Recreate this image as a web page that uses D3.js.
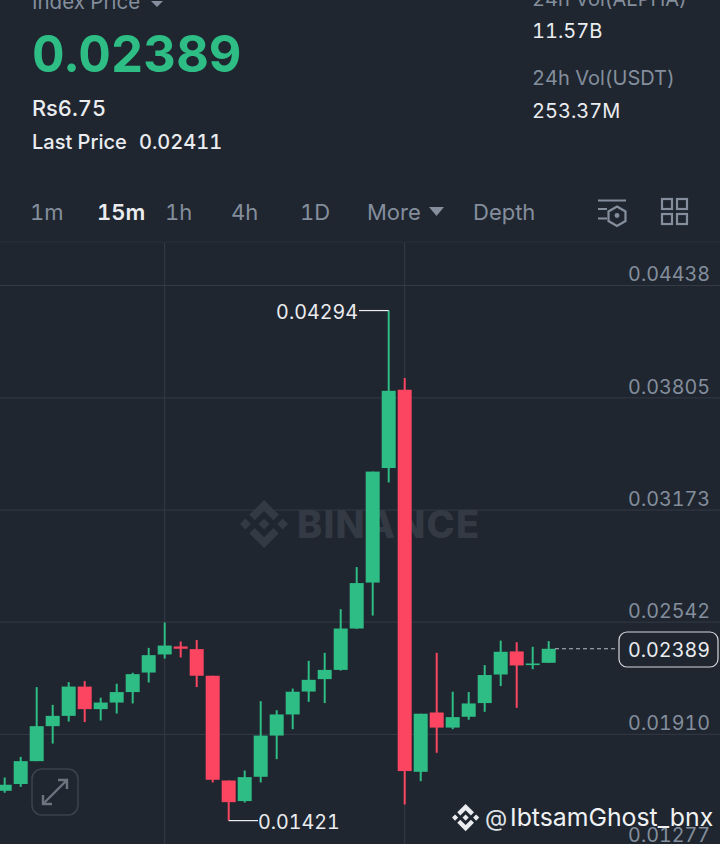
<!DOCTYPE html>
<html>
<head>
<meta charset="utf-8">
<script src="https://cdnjs.cloudflare.com/ajax/libs/d3/7.8.5/d3.min.js"></script>
<style>
  html, body { margin: 0; padding: 0; background: #1f2630; overflow: hidden; }
  svg { display: block; }
  text { font-family: Inter, "Noto Sans", sans-serif; font-variant-numeric: tabular-nums; }
</style>
</head>
<body>
<div id="chart"></div>
<script>
// candles, left to right
const opens = [0.01589, 0.01627, 0.01756, 0.01953, 0.02011, 0.02176, 0.02049, 0.02086, 0.02145, 0.02255, 0.02357, 0.02402, 0.02387, 0.02237, 0.01647, 0.01531, 0.01668, 0.01900, 0.02019, 0.02148, 0.02218, 0.02270, 0.02503, 0.02762, 0.03407, 0.03848, 0.01696, 0.02030, 0.01945, 0.02006, 0.02083, 0.02244, 0.02374, 0.02297, 0.02310];
const closes = [0.01623, 0.01756, 0.01953, 0.02011, 0.02176, 0.02049, 0.02086, 0.02145, 0.02246, 0.02353, 0.02407, 0.02389, 0.02237, 0.01651, 0.01525, 0.01666, 0.01900, 0.02019, 0.02147, 0.02214, 0.02270, 0.02503, 0.02759, 0.03387, 0.03842, 0.01700, 0.02023, 0.01945, 0.02004, 0.02081, 0.02241, 0.02372, 0.02295, 0.02306, 0.02389];
const highs = [0.01664, 0.01780, 0.02173, 0.02073, 0.02201, 0.02207, 0.02113, 0.02192, 0.02254, 0.02394, 0.02537, 0.02430, 0.02438, 0.02237, 0.01647, 0.01703, 0.02094, 0.02043, 0.02165, 0.02321, 0.02366, 0.02612, 0.02849, 0.03387, 0.04294, 0.03914, 0.02023, 0.02366, 0.02147, 0.02145, 0.02297, 0.02435, 0.02426, 0.02400, 0.02432];
const lows = [0.01578, 0.01611, 0.01756, 0.01855, 0.01979, 0.01976, 0.01985, 0.02024, 0.02081, 0.02199, 0.02334, 0.02340, 0.02173, 0.01636, 0.01421, 0.01523, 0.01636, 0.01767, 0.01936, 0.02090, 0.02083, 0.02266, 0.02501, 0.02576, 0.03326, 0.01512, 0.01643, 0.01803, 0.01936, 0.01989, 0.02034, 0.02179, 0.02056, 0.02274, 0.02310];

const priceTicks = [0.04438, 0.03805, 0.03173, 0.02542, 0.01910, 0.01277];
const timeGridIndex = [10, 25];
const maxPoint = { index: 24, value: 0.04294 };
const minPoint = { index: 14, value: 0.01421 };
const lastPrice = 0.02389;

const tabs = ['1m', '15m', '1h', '4h', '1D', 'More', 'Depth'];
const activeTab = '15m';
const statBlocks = [
  { label: '24h Vol(ALPHA)', value: '11.57B' },
  { label: '24h Vol(USDT)', value: '253.37M' }
];

const width = 720;
const height = 844;
const colors = {
  bg: '#1f2630',
  up: '#2ebd85',
  down: '#fc4560',
  grid: '#343b45',
  muted: '#848e9c',
  text: '#eaecef',
  mark: '#333a44'
};
const logoPath = 'M38.73 53.2l24.59-24.58 24.6 24.6 14.3-14.31L63.32 0 24.42 38.9zM0 63.31l14.3-14.31 14.31 14.31-14.31 14.3zM38.73 73.41l24.59 24.59 24.6-24.6 14.31 14.29-38.9 38.91-38.91-38.88-.02-.02zM98 63.31l14.3-14.31 14.31 14.3-14.31 14.32zM77.83 63.3L63.32 48.78 52.59 59.51l-1.24 1.23-2.54 2.54 14.51 14.5 14.51-14.47z';

const candles = opens.map((open, i) => ({
  i, open, close: closes[i], high: highs[i], low: lows[i]
}));

const x = d3.scaleLinear().domain([0, opens.length - 1]).range([4.7, 548.7]);
const y = d3.scaleLinear().domain([0.04438, 0.0191]).range([285, 733.8]);

const svg = d3.select('#chart').append('svg')
  .attr('width', width)
  .attr('height', height)
  .attr('viewBox', `0 0 ${width} ${height}`);

svg.append('rect')
  .attr('width', width)
  .attr('height', height)
  .attr('fill', colors.bg);

function drawHeader() {
  const header = svg.append('g').attr('class', 'header');

  header.append('text').attr('x', 32).attr('y', 9)
    .attr('font-size', 20.5).attr('fill', colors.muted).text('Index Price');
  header.append('path').attr('d', 'M151 1h12l-6 6z').attr('fill', colors.muted);

  header.append('text').attr('x', 32).attr('y', 72)
    .attr('font-size', 50.5).attr('font-weight', 650).attr('fill', colors.up)
    .text(d3.format('.5f')(lastPrice));

  header.append('text').attr('x', 32).attr('y', 116)
    .attr('font-size', 21.8).attr('font-weight', 500).attr('fill', colors.text)
    .text('Rs6.75');
  header.append('text').attr('x', 32).attr('y', 149)
    .attr('font-size', 20).attr('font-weight', 500).attr('fill', colors.text)
    .text('Last Price');
  header.append('text').attr('x', 139).attr('y', 149)
    .attr('font-size', 20).attr('font-weight', 500).attr('fill', colors.text)
    .text('0.02411');

  const statY = [[6, 38], [85, 118]];
  statBlocks.forEach((s, i) => {
    header.append('text').attr('x', 532).attr('y', statY[i][0])
      .attr('font-size', 20).attr('fill', colors.muted).text(s.label);
    header.append('text').attr('x', 532).attr('y', statY[i][1])
      .attr('font-size', 20).attr('fill', colors.text).text(s.value);
  });

  const tabX = [30, 97, 165, 231, 300, 367, 473];
  header.selectAll('.tab')
    .data(tabs)
    .enter()
    .append('text')
    .attr('class', 'tab')
    .attr('x', (d, i) => tabX[i])
    .attr('y', 220)
    .attr('font-size', 22)
    .attr('font-weight', d => d === activeTab ? 600 : 400)
    .attr('fill', d => d === activeTab ? colors.text : colors.muted)
    .text(d => d);
  header.append('path').attr('d', 'M429 207h15l-7.5 9z').attr('fill', colors.muted);

  // settings icon
  const icon = header.append('g')
    .attr('fill', 'none').attr('stroke', colors.muted).attr('stroke-width', 2.2);
  icon.append('path').attr('d', 'M598 200.5h28M598 209h9M598 218.5h9');
  icon.append('path').attr('d', 'M617 206.5l8.5 5v9.5l-8.5 5-8.5-5v-9.5z');
  header.append('circle').attr('cx', 617).attr('cy', 215.5).attr('r', 2.4).attr('fill', colors.muted);

  // layout icon
  header.selectAll('.cell')
    .data([[662, 199], [677, 199], [662, 214], [677, 214]])
    .enter()
    .append('rect')
    .attr('class', 'cell')
    .attr('x', d => d[0])
    .attr('y', d => d[1])
    .attr('width', 10)
    .attr('height', 10)
    .attr('fill', 'none')
    .attr('stroke', colors.muted)
    .attr('stroke-width', 2.2);

  svg.append('line')
    .attr('x1', 0).attr('x2', width).attr('y1', 242).attr('y2', 242)
    .attr('stroke', colors.grid).attr('stroke-width', 1).attr('stroke-dasharray', '1 1');
}

function drawWatermark() {
  const mark = svg.append('g').attr('class', 'watermark');
  mark.append('path')
    .attr('d', logoPath)
    .attr('transform', 'translate(240,500) scale(0.38)')
    .attr('fill', colors.mark);
  mark.append('text')
    .attr('x', 297).attr('y', 538)
    .attr('font-size', 38).attr('font-weight', 800)
    .attr('letter-spacing', 1.2)
    .attr('fill', colors.mark)
    .text('BINANCE');
}

function drawGrid() {
  const grid = svg.append('g').attr('class', 'grid');
  grid.call(d3.axisRight(y).tickValues(priceTicks).tickSize(width).tickFormat(''))
    .call(g => g.select('.domain').remove())
    .call(g => g.selectAll('.tick line').attr('stroke', colors.grid));

  grid.selectAll('.vline')
    .data(timeGridIndex)
    .enter()
    .append('line')
    .attr('class', 'vline')
    .attr('x1', d => x(d))
    .attr('x2', d => x(d))
    .attr('y1', 243)
    .attr('y2', height)
    .attr('stroke', colors.grid);
}

function drawCandles() {
  const bodyW = 14;
  const g = svg.selectAll('.candle')
    .data(candles)
    .enter()
    .append('g')
    .attr('class', 'candle')
    .attr('fill', d => d.close >= d.open ? colors.up : colors.down)
    .attr('stroke', d => d.close >= d.open ? colors.up : colors.down);

  g.append('line')
    .attr('x1', d => x(d.i))
    .attr('x2', d => x(d.i))
    .attr('y1', d => y(d.high))
    .attr('y2', d => y(d.low))
    .attr('stroke-width', 2);

  g.append('rect')
    .attr('x', d => x(d.i) - bodyW / 2)
    .attr('y', d => y(Math.max(d.open, d.close)))
    .attr('width', bodyW)
    .attr('height', d => Math.max(1, Math.abs(y(d.open) - y(d.close))))
    .attr('stroke', 'none');
}

function drawAxisLabels() {
  const axis = svg.append('g').attr('class', 'y-axis')
    .attr('transform', 'translate(710,0)');
  axis.call(d3.axisRight(y).tickValues(priceTicks).tickSize(0).tickFormat(d3.format('.5f')))
    .call(g => g.select('.domain').remove());
  axis.selectAll('text')
    .attr('x', 0)
    .attr('dy', -4.2)
    .attr('text-anchor', 'end')
    .attr('font-size', 19.7)
    .attr('font-family', 'Inter, "Noto Sans", sans-serif')
    .attr('fill', colors.muted);
}

function drawExtremes() {
  svg.append('line')
    .attr('x1', 359).attr('x2', x(maxPoint.index))
    .attr('y1', y(maxPoint.value)).attr('y2', y(maxPoint.value))
    .attr('stroke', colors.text).attr('stroke-width', 1.2);
  svg.append('text')
    .attr('x', 358).attr('y', y(maxPoint.value) + 8)
    .attr('text-anchor', 'end').attr('font-size', 19.7).attr('fill', colors.text)
    .text(d3.format('.5f')(maxPoint.value));

  svg.append('line')
    .attr('x1', x(minPoint.index)).attr('x2', 258)
    .attr('y1', y(minPoint.value)).attr('y2', y(minPoint.value))
    .attr('stroke', colors.text).attr('stroke-width', 1.2);
  svg.append('text')
    .attr('x', 258).attr('y', y(minPoint.value) + 8)
    .attr('font-size', 19.7).attr('fill', colors.text)
    .text(d3.format('.5f')(minPoint.value));
}

function drawLastPrice() {
  svg.append('line')
    .attr('x1', 555).attr('x2', 617)
    .attr('y1', y(lastPrice)).attr('y2', y(lastPrice))
    .attr('stroke', '#b7bdc6').attr('stroke-width', 1.2)
    .attr('stroke-dasharray', '4 3');
  svg.append('rect')
    .attr('x', 619).attr('y', 632)
    .attr('width', 99).attr('height', 35)
    .attr('rx', 8)
    .attr('fill', colors.bg)
    .attr('stroke', '#d5d8dc').attr('stroke-width', 1.2);
  svg.append('text')
    .attr('x', 669).attr('y', y(lastPrice) + 8)
    .attr('text-anchor', 'middle').attr('font-size', 19.7).attr('fill', colors.text)
    .text(d3.format('.5f')(lastPrice));
}

function drawOverlays() {
  // expand button
  const btn = svg.append('g').attr('class', 'expand');
  btn.append('rect')
    .attr('x', 32).attr('y', 769).attr('width', 46).attr('height', 46).attr('rx', 10)
    .attr('fill', colors.bg).attr('stroke', '#3a414b').attr('stroke-width', 1.6);
  btn.append('path')
    .attr('d', 'M43 804l24-24M43 795v9h9M58 780h9v9')
    .attr('fill', 'none').attr('stroke', '#6c7480').attr('stroke-width', 2.4);

  // post watermark
  svg.append('path')
    .attr('d', logoPath)
    .attr('transform', 'translate(452,804) scale(0.215)')
    .attr('fill', colors.text);
  svg.append('text')
    .attr('x', 485).attr('y', 826)
    .attr('font-size', 23).attr('fill', '#dfe2e6')
    .text('@');
  svg.append('text')
    .attr('x', 510).attr('y', 826)
    .attr('font-size', 24.8).attr('fill', '#f0f1f3')
    .text('IbtsamGhost_bnx');
}

drawHeader();
drawWatermark();
drawGrid();
drawCandles();
drawAxisLabels();
drawExtremes();
drawLastPrice();
drawOverlays();
</script>
</body>
</html>
